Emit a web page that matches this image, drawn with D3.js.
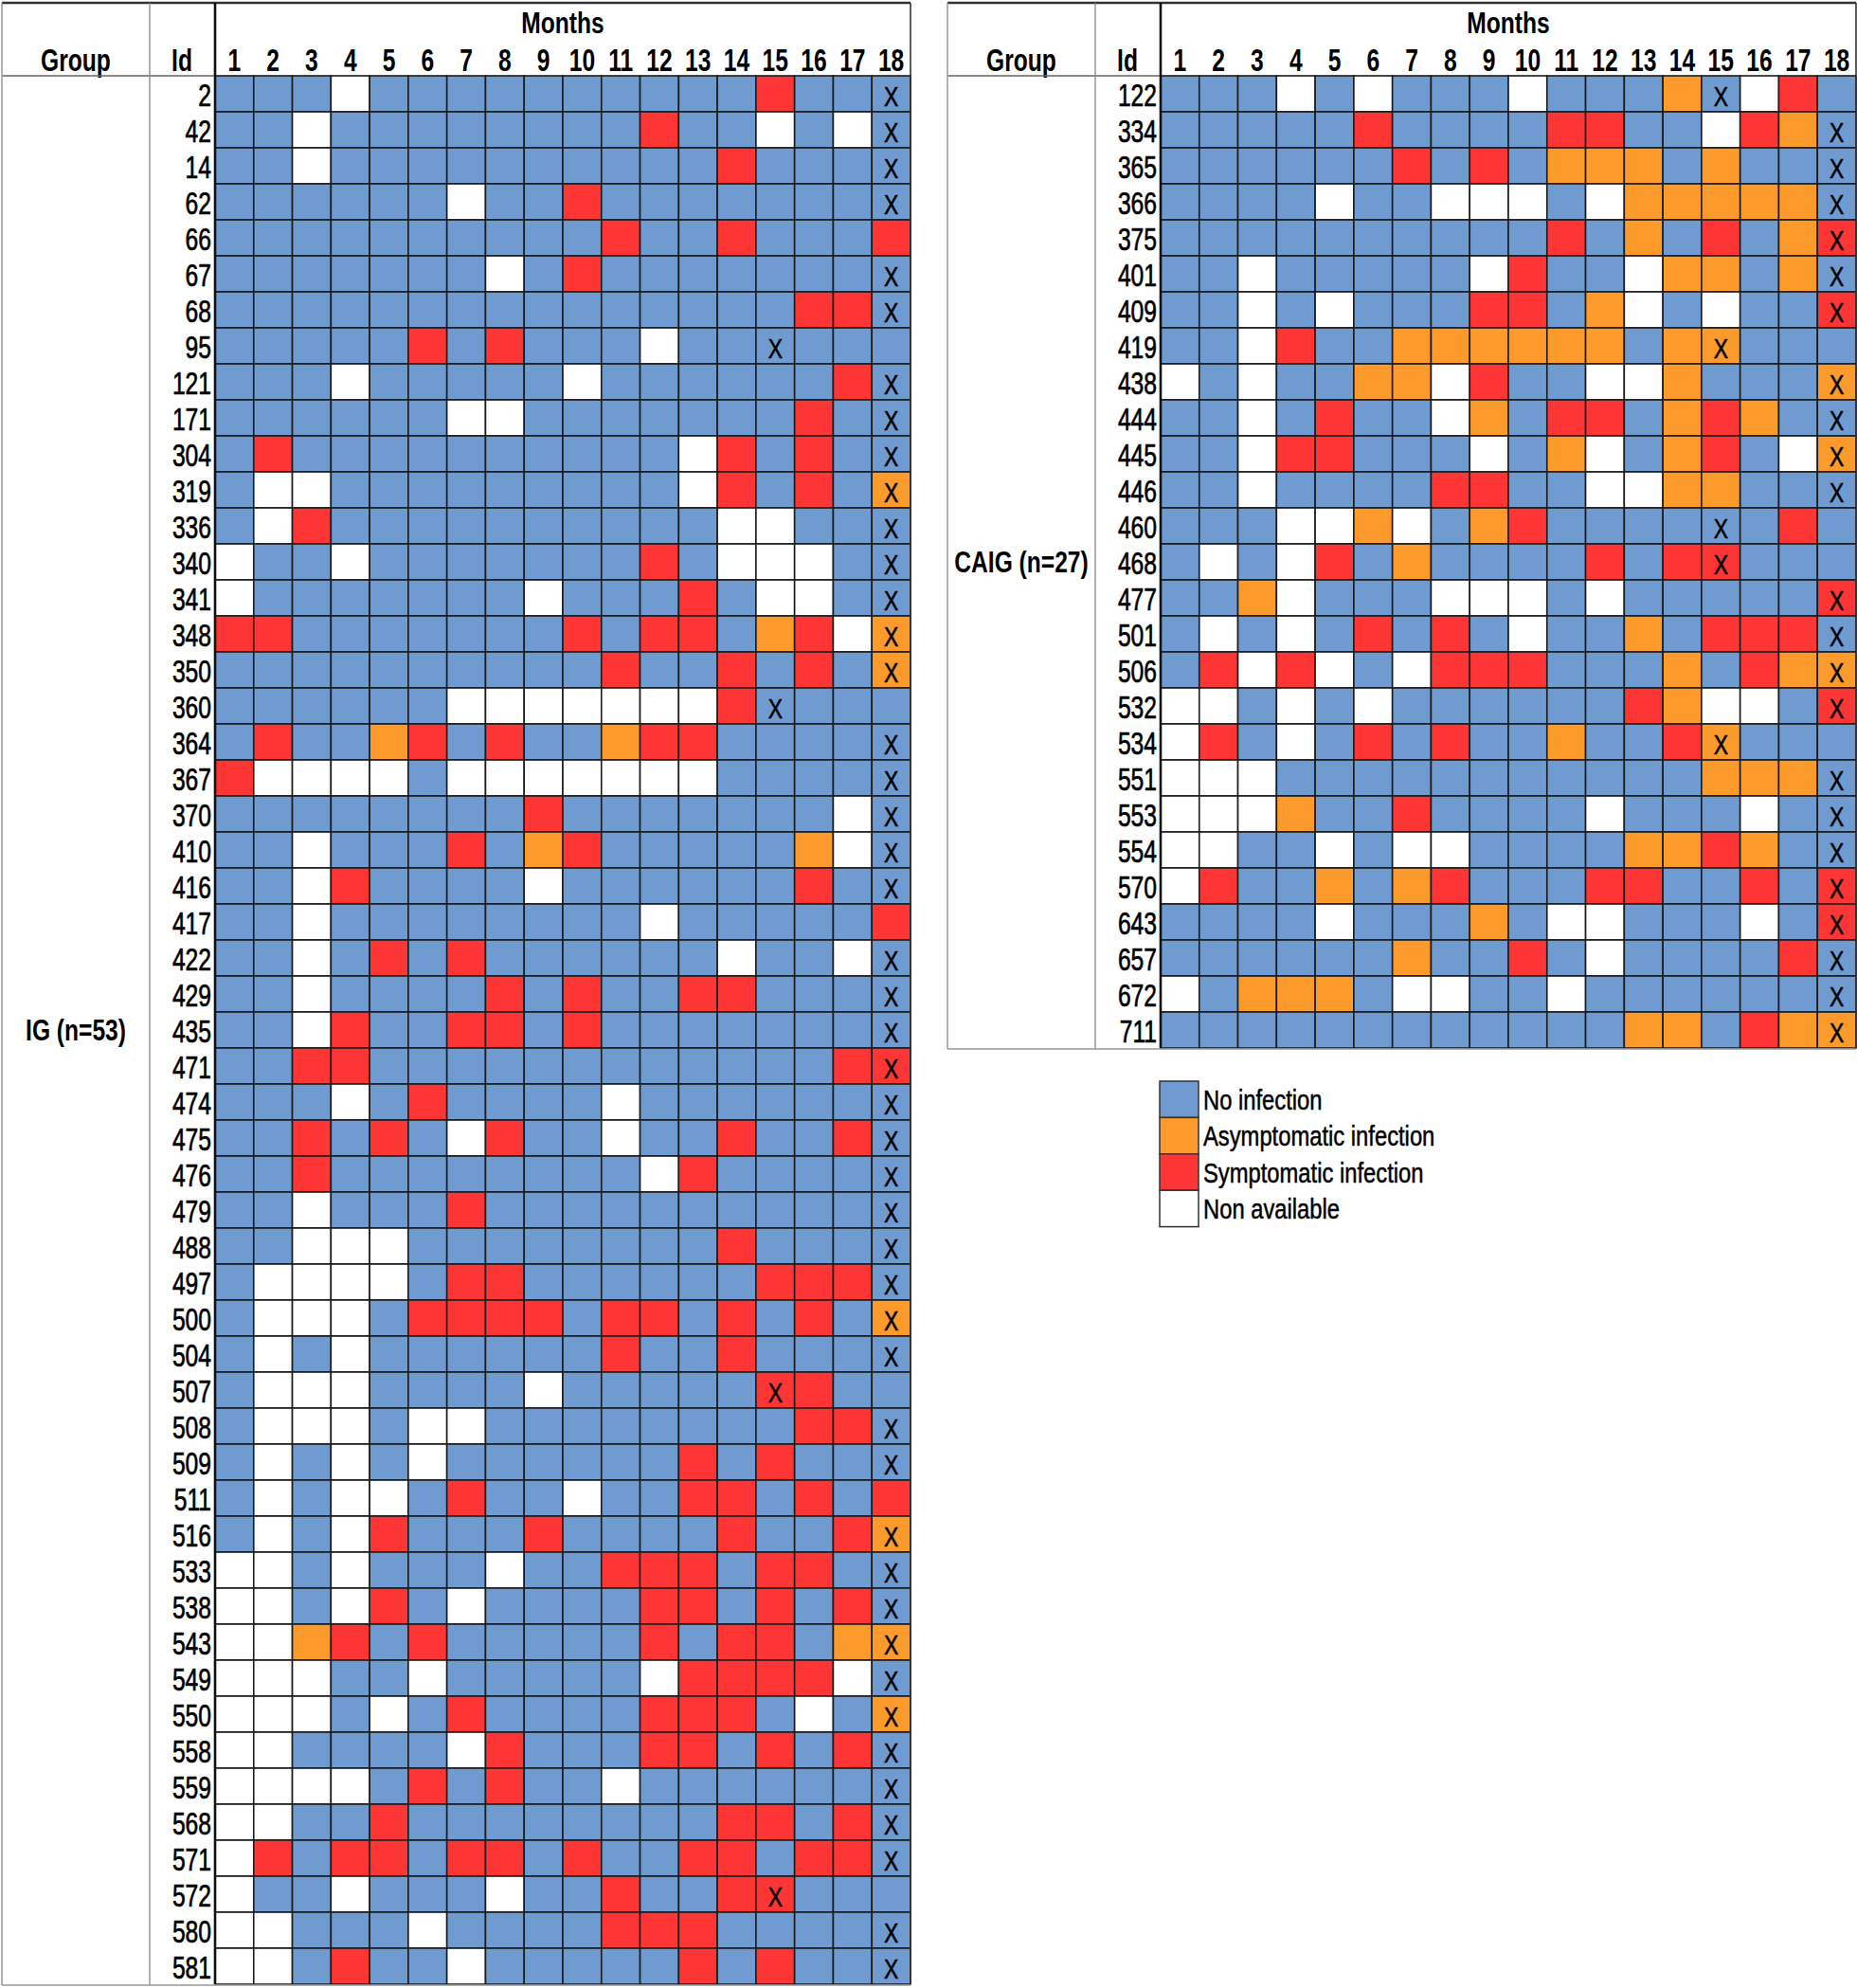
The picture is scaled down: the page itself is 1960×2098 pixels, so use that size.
<!DOCTYPE html>
<html><head><meta charset="utf-8">
<script src="https://cdn.jsdelivr.net/npm/d3@7"></script>
<style>body{margin:0;background:#fff}svg{display:block}</style>
</head><body>
<svg id="chart" width="1960" height="2098"></svg>
<script>
// ---------- DATA ----------
const months = [1,2,3,4,5,6,7,8,9,10,11,12,13,14,15,16,17,18];
const statusCodes = ["B","O","R","W"];
const statusLabels = ["No infection","Asymptomatic infection","Symptomatic infection","Non available"];
const groupLabels = ["IG (n=53)","CAIG (n=27)"];

const igIds = [2,42,14,62,66,67,68,95,121,171,304,319,336,340,341,348,350,360,364,367,370,410,416,417,422,429,435,471,474,475,476,479,488,497,500,504,507,508,509,511,516,533,538,543,549,550,558,559,568,571,572,580,581];
// B = no infection, O = asymptomatic, R = symptomatic, W = not available (months 1..18)
const igStatus = [
"BBBWBBBBBBBBBBRBBB","BBWBBBBBBBBRBBWBWB","BBWBBBBBBBBBBRBBBB","BBBBBBWBBRBBBBBBBB",
"BBBBBBBBBBRBBRBBBR","BBBBBBBWBRBBBBBBBB","BBBBBBBBBBBBBBBRRB","BBBBBRBRBBBWBBBBBB",
"BBBWBBBBBWBBBBBBRB","BBBBBBWWBBBBBBBRBB","BRBBBBBBBBBBWRBRBB","BWWBBBBBBBBBWRBRBO",
"BWRBBBBBBBBBBWWBBB","WBBWBBBBBBBRBWWWBB","WBBBBBBBWBBBRBWWBB","RRBBBBBBBRBRRBORWO",
"BBBBBBBBBBRBBRBRBO","BBBBBBWWWWWWWRBBBB","BRBBORBRBBORRBBBBB","RWWWWBWWWWWWWBBBBB",
"BBBBBBBBRBBBBBBBWB","BBWBBBRBORBBBBBOWB","BBWRBBBBWBBBBBBRBB","BBWBBBBBBBBWBBBBBR",
"BBWBRBRBBBBBBWBBWB","BBWBBBBRBRBBRRBBBB","BBWRBBRRBRBBBBBBBB","BBRRBBBBBBBBBBBBRR",
"BBBWBRBBBBWBBBBBBB","BBRBRBWRBBWBBRBBRB","BBRBBBBBBBBWRBBBBB","BBWBBBRBBBBBBBBBBB",
"BBWWWBBBBBBBBRBBBB","BWWWWBRRBBBBBBRRRB","BWWWBRRRRBRRBRBRBO","BWBWBBBBBBRBBRBBBB",
"BWWWBBBBWBBBBBRRBB","BWWWBWWBBBBBBBBRRB","BWBWBWBBBBBBRBRBBB","BWBWWBRBBWBBRRBRBR",
"BWBWRBBBRBBBBRBBRO","WWBWBBBWBBRRRBRRBB","WWBWRBWBBBBRRBRBRB","WWORBRBBBBBRBRRBOO",
"WWWBBWBBBBBWRRRRWB","WWWBWBRBBBBRRRBWBO","WWBBBBWRBBBRRBRBRB","WWWWBRBRBBWBBBBBBB",
"WWBBRBBBBBBBBRRBRB","WRBRRBRRBRBBRRBRRB","WBBWBBBWBBRBBRRBBB","WWBBBWBBBBRRRBBBBB",
"WWBRBBWBBBBBRBRBBB"];
// month carrying the "X" mark per patient (null = none)
const igXMonth = [18,18,18,18,null,18,18,15,18,18,18,18,18,18,18,18,18,15,18,18,18,18,18,null,18,18,18,18,18,18,18,18,18,18,18,18,15,18,18,null,18,18,18,18,18,18,18,18,18,18,15,18,18];

const caigIds = [122,334,365,366,375,401,409,419,438,444,445,446,460,468,477,501,506,532,534,551,553,554,570,643,657,672,711];
const caigStatus = [
"BBBWBWBBBWBBBOBWRB","BBBBBRBBBBRRBBWROB","BBBBBBRBRBOOOBOBBB","BBBBWBBWWWBWOOOOOB",
"BBBBBBBBBBRBOBRBOR","BBWBBBBBWRBBWOOBOB","BBWBWBBBRRBOWBWBBR","BBWRBBOOOOOOBOOBBB",
"WBWBBOOWRBBWWOBBBO","BBWBRBBWOBRRBOROBB","BBWRRBBBWBOWBORBWO","BBWBBBBRRBBWWOOBBB",
"BBBWWOWBORBBBBBBRB","BWBWRBOBBBBRBRRBBB","BBOWBBBWWWBWBBBBBR","BWBWBRBRBWBBOBRRRB",
"BRWRWBWRRRBBBOBROO","WWBWBWBBBBBBROWWBR","WRBWBRBRBBOBBROBBB","WWWBBBBBBBBBBBOOOB",
"WWWOBBRBBBBWBBBWBB","WWBBWBWWBBBBOOROBB","WRBBOBORBBBRRBBRBR","BBBBWBBBOBWWBBBWBR",
"BBBBBBOBBRBWBBBBRB","WBOOOBWWBBWBBBBBBB","BBBBBBBBBBBBOOBROO"];
const caigXMonth = [15,18,18,18,18,18,18,15,18,18,18,18,15,15,18,18,18,18,15,18,18,18,18,18,18,18,18];

// ---------- DRAWING ----------
const svg = d3.select("#chart");
const FONT = "'Liberation Sans', Arial, sans-serif";
const color = d3.scaleOrdinal().domain(statusCodes).range(["#6f9bd1","#fd9a2c","#fe3535","#ffffff"]);

function label(g, x, y, s, o) {
  o = o || {};
  g.append("g").attr("transform", `translate(${x},${y})`)
    .append("text")
    .attr("transform", `scale(${o.sx || 0.82},${o.sy || 1})`)
    .attr("text-anchor", o.anchor || "middle")
    .attr("font-family", FONT)
    .attr("font-size", o.size || 30)
    .attr("font-weight", o.weight || "normal")
    .attr("fill", "#000")
    .attr("stroke", "#000")
    .attr("stroke-width", o.sw || 0)
    .text(s);
}

const TOP = 80, ROWH = 38;

function drawTable(x0, ids, status, xMonth, groupName) {
  const g = svg.append("g");
  const bottom = TOP + ids.length * ROWH;
  const x = d3.scaleBand().domain(months).range([x0 + 225, x0 + 959]);
  const y = d3.scaleBand().domain(ids).range([TOP, bottom]);

  const cells = [];
  ids.forEach((id, i) => months.forEach((m, j) => cells.push({id, m, s: status[i][j]})));
  g.selectAll("rect.cell").data(cells).join("rect").attr("class", "cell")
    .attr("x", d => x(d.m)).attr("y", d => y(d.id))
    .attr("width", x.bandwidth()).attr("height", y.bandwidth())
    .attr("fill", d => color(d.s))
    .attr("stroke", "#1c1c1c").attr("stroke-width", 1.6);

  // X marks
  ids.forEach((id, i) => {
    if (xMonth[i] != null)
      label(g, x(xMonth[i]) + x.bandwidth() / 2, y(id) + 32, "X", {size: 26, sx: 0.88, sy: 1.12, sw: 0.5});
  });

  // ids
  ids.forEach(id => label(g, x0 + 221, y(id) + 32, String(id), {anchor: "end", size: 28.5, sx: 0.865, sy: 1.15, sw: 0.6}));

  // header
  label(g, x0 + 78, 75, "Group", {weight: "bold", sy: 1.1});
  label(g, x0 + 190, 75, "Id", {weight: "bold", sy: 1.1});
  label(g, x0 + 225 + 367, 35, "Months", {weight: "bold", sy: 1.05});
  months.forEach(m => label(g, x(m) + x.bandwidth() / 2, 75, String(m), {weight: "bold", sy: 1.1}));

  // group label
  label(g, x0 + 78, (TOP + bottom) / 2 + 11, groupName, {weight: "bold", sy: 1.05});

  // frame lines
  const L = (x1, y1, x2, y2, c, w) => g.append("line").attr("x1", x1).attr("y1", y1).attr("x2", x2).attr("y2", y2)
      .attr("stroke", c).attr("stroke-width", w);
  L(x0, 3, x0 + 959, 3, "#333", 2.5);
  L(x0, TOP, x0 + 225, TOP, "#666", 1.5);
  L(x0, 3, x0, bottom + 1, "#999", 1.5);
  L(x0 + 156, 3, x0 + 156, bottom + 1, "#888", 1.3);
  L(x0 + 225, 3, x0 + 225, bottom, "#111", 2.6);
  L(x0 + 959, 3, x0 + 959, bottom, "#333", 1.6);
  L(x0, bottom + 1, x0 + 959, bottom + 1, "#999", 1.5);
}

drawTable(2, igIds, igStatus, igXMonth, groupLabels[0]);
drawTable(1000, caigIds, caigStatus, caigXMonth, groupLabels[1]);

// legend
const lg = svg.append("g");
const ly = d3.scaleBand().domain(statusCodes).range([1141, 1141 + 4 * 38.4]);
lg.selectAll("rect").data(statusCodes).join("rect")
  .attr("x", 1224).attr("y", d => ly(d)).attr("width", 41).attr("height", ly.bandwidth())
  .attr("fill", d => color(d)).attr("stroke", "#333").attr("stroke-width", 1.5);
statusCodes.forEach((c, i) => label(lg, 1270, ly(c) + 30, statusLabels[i], {anchor: "start", size: 29, sy: 1.0, sw: 0.5}));
</script>
</body></html>
